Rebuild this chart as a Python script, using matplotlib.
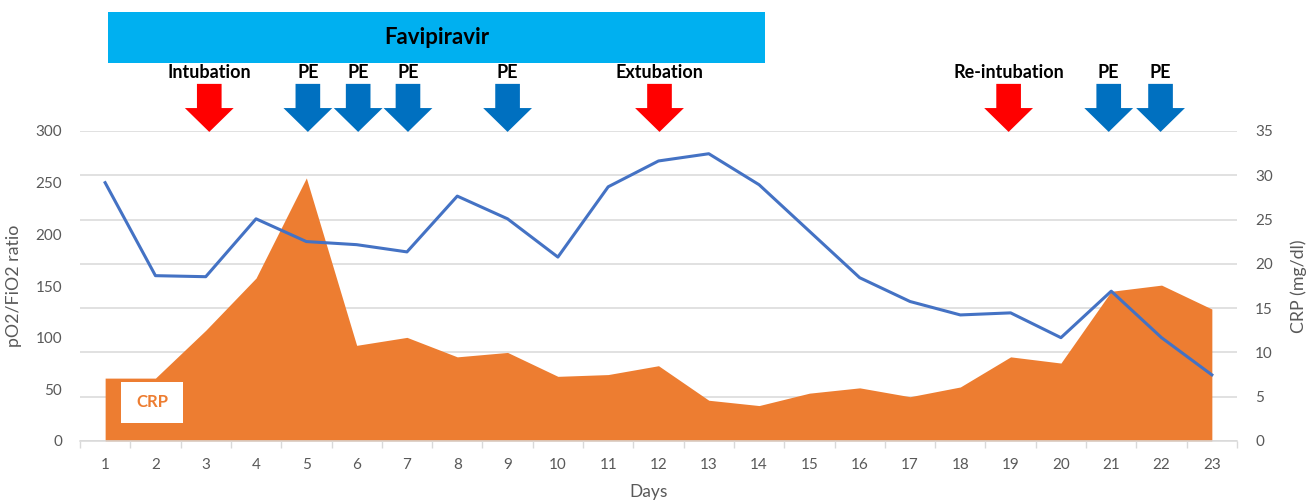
import numpy as np
import matplotlib
matplotlib.use("Agg")
import matplotlib.pyplot as plt
from matplotlib.patches import Polygon, Rectangle
from matplotlib.transforms import blended_transform_factory

plt.rcParams["font.family"] = ["Lato", "DejaVu Sans"]

# data
days = list(range(1, 24))
pf_ratio = [250, 160, 159, 215, 193, 190, 183, 237, 215, 178, 246, 271,
            278, 248, 203, 158, 135, 122, 124, 100, 145, 100, 64]
crp = [7.1, 7.1, 12.5, 18.4, 29.7, 10.8, 11.7, 9.5, 10.0, 7.3, 7.5, 8.5,
       4.6, 4.0, 5.4, 6.0, 5.0, 6.1, 9.5, 8.8, 16.9, 17.6, 14.9]

event_labels = ["Intubation", "PE", "PE", "PE", "PE", "Extubation",
                "Re-intubation", "PE", "PE"]
event_days = [3.07, 5.03, 6.03, 7.02, 9.0, 12.02, 18.96, 20.95, 21.98]
event_kinds = ["airway", "pe", "pe", "pe", "pe", "airway", "airway", "pe", "pe"]

favipiravir_days = (1.06, 14.12)

GREY = "#595959"
GRID = "#D9D9D9"
kind_colors = {"airway": "#FF0000", "pe": "#0070C0"}


def draw_down_arrow(ax, x, color, trans):
    shaft, head = 0.245, 0.485
    top, neck, tip = 1.152, 1.074, 0.997
    pts = [(x - shaft, top), (x + shaft, top), (x + shaft, neck), (x + head, neck),
           (x, tip), (x - head, neck), (x - shaft, neck)]
    ax.add_patch(Polygon(pts, closed=True, facecolor=color, edgecolor="none",
                         transform=trans, clip_on=False, zorder=5))


fig = plt.figure(figsize=(13.09, 5.0), dpi=100)
ax = fig.add_subplot(111)
fig.subplots_adjust(left=0.0611, right=0.945, bottom=0.118, top=0.738)
ax2 = ax.twinx()

# CRP area (right axis), drawn underneath the ratio line
ax2.fill_between(days, crp, 0, color="#ED7D31", linewidth=0, zorder=2)
ax2.set_ylim(0, 35)
ax2.set_yticks(np.arange(0, 36, 5))
ax2.yaxis.grid(True, color=GRID, linewidth=1.1)
ax2.set_axisbelow(True)
ax2.tick_params(axis="y", length=0, pad=13, labelsize=11, labelcolor=GREY)
ax2.set_ylabel("CRP (mg/dl)", color=GREY, fontsize=12.8, rotation=90)
ax2.yaxis.set_label_coords(1.0458, 0.5)
for s in ax2.spines.values():
    s.set_visible(False)

ax2.add_patch(Rectangle((0.0354, 0.058), 0.0536, 0.132, transform=ax2.transAxes,
                        facecolor="white", edgecolor="none", zorder=3))
ax2.text(0.0622, 0.126, "CRP", transform=ax2.transAxes, ha="center", va="center",
         color="#ED7D31", fontsize=12, fontweight="bold", zorder=4)

# pO2/FiO2 line (left axis)
ax.set_zorder(ax2.get_zorder() + 1)
ax.patch.set_visible(False)
ax.plot(days, pf_ratio, color="#4472C4", linewidth=2.2, zorder=3)
ax.set_ylim(0, 300)
ax.set_yticks(np.arange(0, 301, 50))
ax.set_xlim(0.5, 23.5)
ax.set_xticks(days)
ax.set_xticks(np.arange(0.5, 24, 1), minor=True)
ax.tick_params(axis="x", which="major", length=0, pad=12, labelsize=11, labelcolor=GREY)
ax.tick_params(axis="x", which="minor", length=5, width=1, color=GRID)
ax.tick_params(axis="y", length=0, pad=13, labelsize=11, labelcolor=GREY)
ax.set_ylabel("pO2/FiO2 ratio", color=GREY, fontsize=12.8)
ax.yaxis.set_label_coords(-0.0501, 0.5)
ax.set_xlabel("Days", color=GREY, fontsize=12.5)
ax.xaxis.set_label_coords(0.4918, -0.138)
for name, s in ax.spines.items():
    s.set_visible(name == "bottom")
ax.spines["bottom"].set_color(GRID)
ax.spines["bottom"].set_linewidth(1.1)

# treatment banner and event arrows above the plot
trans = blended_transform_factory(ax.transData, ax.transAxes)
start, end = favipiravir_days
ax.add_patch(Rectangle((start, 1.219), end - start, 0.165, transform=trans,
                       facecolor="#00B0F0", edgecolor="none", clip_on=False, zorder=5))
ax.text((start + end) / 2, 1.30, "Favipiravir", transform=trans, ha="center",
        va="center", fontsize=16, fontweight="bold", color="black", zorder=6)

for label, day, kind in zip(event_labels, event_days, event_kinds):
    draw_down_arrow(ax, day, kind_colors[kind], trans)
    ax.text(day, 1.19, label, transform=trans, ha="center", va="center",
            fontsize=13, fontweight="bold", color="black", zorder=6)

fig.savefig("out.png", dpi=100)
